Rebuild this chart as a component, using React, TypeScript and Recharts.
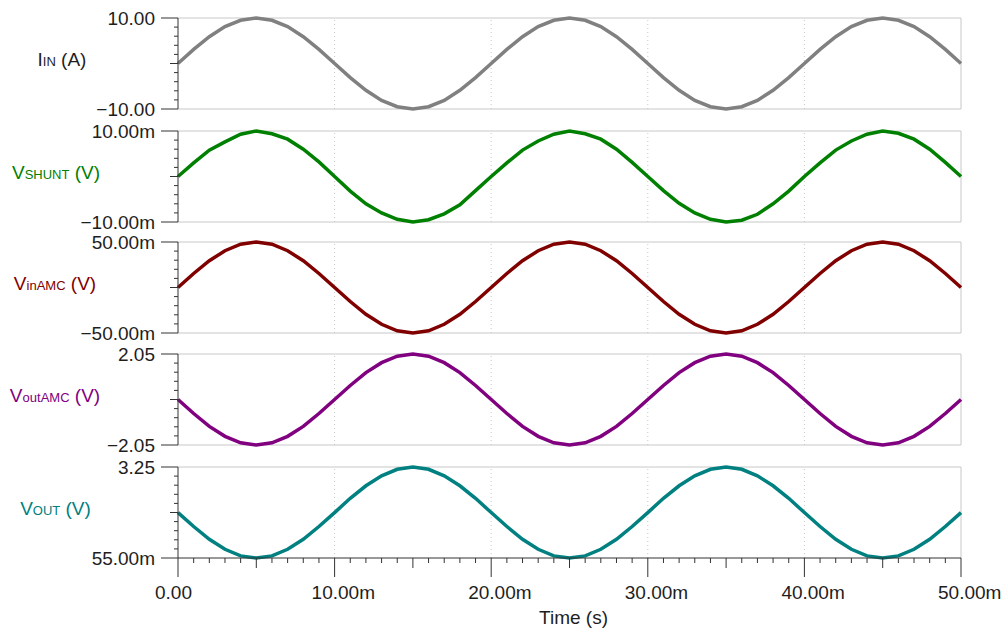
import React from 'react'
import { LineChart, Line, XAxis, YAxis, ReferenceLine } from 'recharts'

// time axis in ms
const timeMs = [
  0, 1, 2, 3, 4, 5, 6, 7, 8, 9, 10, 11, 12, 13, 14, 15, 16, 17, 18, 19, 20, 21, 22, 23, 24, 25,
  26, 27, 28, 29, 30, 31, 32, 33, 34, 35, 36, 37, 38, 39, 40, 41, 42, 43, 44, 45, 46, 47, 48, 49, 50,
]

// I_IN (A)
const iIn = [
  0, 3.1, 5.9, 8.1, 9.5, 10, 9.5, 8.1, 5.9, 3.1, 0, -3.1, -5.9, -8.1, -9.5, -10, -9.5, -8.1, -5.9, -3.1,
  0, 3.1, 5.9, 8.1, 9.5, 10, 9.5, 8.1, 5.9, 3.1, 0, -3.1, -5.9, -8.1, -9.5, -10, -9.5, -8.1, -5.9, -3.1,
  0, 3.1, 5.9, 8.1, 9.5, 10, 9.5, 8.1, 5.9, 3.1, 0,
]

// V_SHUNT (mV)
const vShunt = [
  0, 3.0, 5.8, 7.6, 9.3, 10, 9.4, 8.2, 6.0, 3.2, 0, -3.2, -6.0, -8.0, -9.4, -10, -9.5, -8.2, -6.2, -3.1,
  0, 3.0, 5.8, 7.8, 9.3, 10, 9.4, 8.2, 6.0, 3.1, 0, -3.1, -5.9, -8.0, -9.4, -10, -9.6, -8.3, -6.0, -3.2,
  0, 3.0, 5.8, 7.8, 9.3, 10, 9.5, 8.2, 6.0, 3.1, 0,
]

// V_inAMC (mV)
const vInAmc = [
  0, 15.4, 29.4, 40.4, 47.6, 50, 47.6, 40.4, 29.4, 15.4, 0, -15.4, -29.4, -40.4, -47.6, -50, -47.6, -40.4, -29.4, -15.4,
  0, 15.4, 29.4, 40.4, 47.6, 50, 47.6, 40.4, 29.4, 15.4, 0, -15.4, -29.4, -40.4, -47.6, -50, -47.6, -40.4, -29.4, -15.4,
  0, 15.4, 29.4, 40.4, 47.6, 50, 47.6, 40.4, 29.4, 15.4, 0,
]

// V_outAMC (V)
const vOutAmc = [
  0, -0.63, -1.21, -1.66, -1.95, -2.05, -1.95, -1.66, -1.21, -0.63, 0, 0.63, 1.21, 1.66, 1.95, 2.05, 1.95, 1.66, 1.21, 0.63,
  0, -0.63, -1.21, -1.66, -1.95, -2.05, -1.95, -1.66, -1.21, -0.63, 0, 0.63, 1.21, 1.66, 1.95, 2.05, 1.95, 1.66, 1.21, 0.63,
  0, -0.63, -1.21, -1.66, -1.95, -2.05, -1.95, -1.66, -1.21, -0.63, 0,
]

// V_OUT (V)
const vOut = [
  1.65, 1.16, 0.71, 0.36, 0.13, 0.055, 0.13, 0.36, 0.71, 1.16, 1.65, 2.15, 2.59, 2.94, 3.17, 3.25, 3.17, 2.94, 2.59, 2.15,
  1.65, 1.16, 0.71, 0.36, 0.13, 0.055, 0.13, 0.36, 0.71, 1.16, 1.65, 2.15, 2.59, 2.94, 3.17, 3.25, 3.17, 2.94, 2.59, 2.15,
  1.65, 1.16, 0.71, 0.36, 0.13, 0.055, 0.13, 0.36, 0.71, 1.16, 1.65,
]

const xMajorTicks = [0, 10, 20, 30, 40, 50]
const xTickLabels = ['0.00', '10.00m', '20.00m', '30.00m', '40.00m', '50.00m']
const xGridTicks = [10, 20, 30, 40]

const FONT = '"Liberation Sans", Arial, Helvetica, sans-serif'
const AXIS = '#333'
const FRAME = '#c8c8c8'
const TEXT = '#1e1e1e'

const PLOT_LEFT = 178
const PLOT_RIGHT = 961
const PLOT_H = 91
const PAD = 10

const panels = [
  { values: iIn, color: '#808080', domain: [-10, 10], tickLabels: ['−10.00', '10.00'], name: 'I', sub: 'IN', unit: ' (A)', nameColor: TEXT, top: 18, labelX: 62 },
  { values: vShunt, color: '#008000', domain: [-10, 10], tickLabels: ['−10.00m', '10.00m'], name: 'V', sub: 'SHUNT', unit: ' (V)', nameColor: '#008000', top: 130.5, labelX: 56 },
  { values: vInAmc, color: '#800000', domain: [-50, 50], tickLabels: ['−50.00m', '50.00m'], name: 'V', sub: 'inAMC', unit: ' (V)', nameColor: '#800000', top: 242, labelX: 55 },
  { values: vOutAmc, color: '#800080', domain: [-2.05, 2.05], tickLabels: ['−2.05', '2.05'], name: 'V', sub: 'outAMC', unit: ' (V)', nameColor: '#800080', top: 354, labelX: 55 },
  { values: vOut, color: '#008080', domain: [0.055, 3.25], tickLabels: ['55.00m', '3.25'], name: 'V', sub: 'OUT', unit: ' (V)', nameColor: '#008080', top: 467, labelX: 55.5 },
]

const elevenTicks = (d: number[]) => Array.from({ length: 11 }, (_, i) => d[0] + ((d[1] - d[0]) * i) / 10)

const YTick = (props: any) => {
  const { x, y, index, labels } = props
  const len = index === 0 || index === 10 ? 17 : index === 5 ? 8 : 4
  const label = index === 0 ? labels[0] : index === 10 ? labels[1] : null
  return (
    <g>
      <line x1={x - len} y1={y} x2={x} y2={y} stroke={AXIS} strokeWidth={1} />
      {label && (
        <text x={x - 23} y={y} dy={6.5} textAnchor="end" fontSize={19} fontFamily={FONT} fill={TEXT}>
          {label}
        </text>
      )}
    </g>
  )
}

const XTick = (props: any) => {
  const { x, y, payload } = props
  const v = payload.value
  const len = v % 10 === 0 ? 19 : v % 5 === 0 ? 10 : 5
  const idx = xMajorTicks.indexOf(v)
  return (
    <g>
      <line x1={x} y1={y} x2={x} y2={y + len} stroke={AXIS} strokeWidth={1} />
      {idx >= 0 && (
        <text x={x - 23} y={y} dy={40.5} textAnchor="start" fontSize={19} fontFamily={FONT} fill={TEXT}>
          {xTickLabels[idx]}
        </text>
      )}
    </g>
  )
}

export default function App() {
  return (
    <div style={{ position: 'absolute', left: 0, top: 0, width: 1006, height: 628, background: '#fff', fontFamily: FONT }}>
      {panels.map((p, pi) => {
        const last = pi === panels.length - 1
        const data = timeMs.map((t, i) => ({ t, v: p.values[i] }))
        const height = PAD + PLOT_H + (last ? 70 : PAD)
        return (
          <div key={pi} style={{ position: 'absolute', left: 0, top: p.top - PAD }}>
            <LineChart
              width={1006}
              height={height}
              data={data}
              margin={{ top: PAD, right: 1006 - PLOT_RIGHT, left: PLOT_LEFT - 60, bottom: last ? 0 : PAD }}
            >
              <XAxis
                type="number"
                dataKey="t"
                domain={[0, 50]}
                hide={!last}
                ticks={timeMs}
                interval={0}
                tickSize={0}
                tickMargin={0}
                height={70}
                axisLine={{ stroke: AXIS }}
                tickLine={false}
                tick={(tp: any) => <XTick {...tp} />}
                label={last ? { value: 'Time (s)', position: 'insideBottom', offset: 4.5, dx: 4, fontSize: 19, fill: TEXT, fontFamily: FONT } : undefined}
              />
              <YAxis
                type="number"
                domain={p.domain}
                ticks={elevenTicks(p.domain)}
                interval={0}
                width={60}
                tickSize={0}
                tickMargin={0}
                axisLine={{ stroke: AXIS }}
                tickLine={false}
                tick={(tp: any) => <YTick {...tp} labels={p.tickLabels} />}
              />
              {xGridTicks.map((g) => (
                <ReferenceLine key={g} x={g} stroke={FRAME} strokeDasharray="1 3" />
              ))}
              <ReferenceLine y={p.domain[1]} stroke={FRAME} />
              {!last && <ReferenceLine y={p.domain[0]} stroke={FRAME} />}
              <ReferenceLine x={50} stroke={FRAME} />
              <Line type="linear" dataKey="v" stroke={p.color} strokeWidth={3.5} dot={false} isAnimationActive={false} />
            </LineChart>
            <div
              style={{
                position: 'absolute',
                left: p.labelX,
                top: PAD + 41,
                transform: 'translate(-50%, -50%)',
                whiteSpace: 'nowrap',
                fontSize: 19,
                lineHeight: 1,
                color: p.nameColor,
              }}
            >
              {p.name}
              <span style={{ fontSize: 13 }}>{p.sub}</span>
              {p.unit}
            </div>
          </div>
        )
      })}
    </div>
  )
}
